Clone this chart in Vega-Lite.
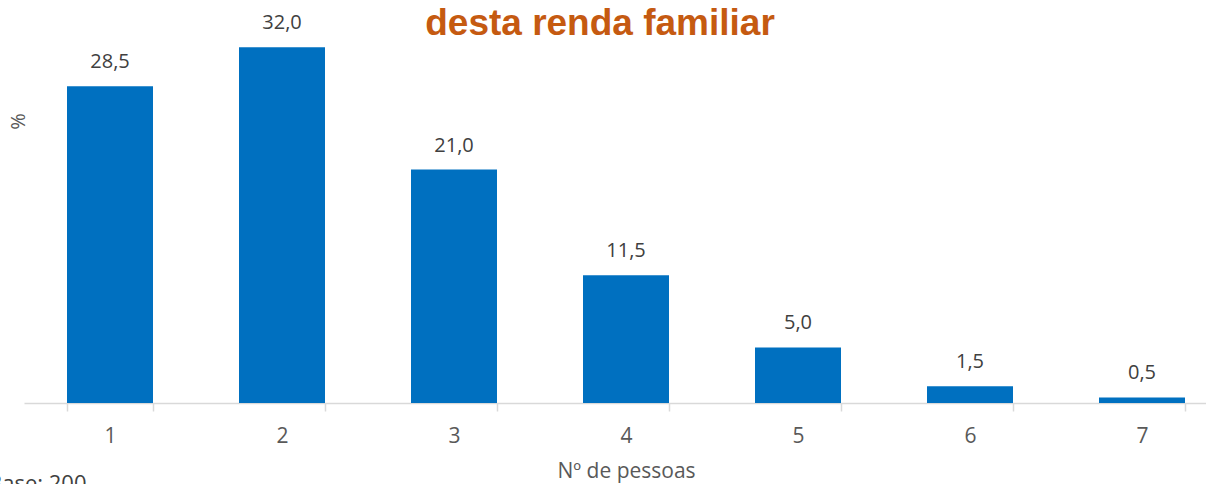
{
  "$schema": "https://vega.github.io/schema/vega-lite/v6.json",
  "width": 1204,
  "height": 389,
  "autosize": {"type": "none"},
  "padding": {"left": 24, "top": 14, "right": 0, "bottom": 81},
  "background": "white",
  "config": {
    "view": {"stroke": null},
    "locale": {"number": {"decimal": ",", "thousands": ".", "grouping": [3], "currency": ["", ""]}}
  },
  "title": {
    "text": "desta renda familiar",
    "font": "Liberation Sans",
    "fontSize": 37,
    "fontWeight": "bold",
    "color": "#C55A11",
    "anchor": "middle",
    "frame": "group",
    "dx": -26,
    "dy": 38,
    "baseline": "alphabetic",
    "offset": -21
  },
  "data": {
    "values": [
      {"pessoas": "1", "pct": 28.5},
      {"pessoas": "2", "pct": 32.0},
      {"pessoas": "3", "pct": 21.0},
      {"pessoas": "4", "pct": 11.5},
      {"pessoas": "5", "pct": 5.0},
      {"pessoas": "6", "pct": 1.5},
      {"pessoas": "7", "pct": 0.5}
    ]
  },
  "encoding": {
    "x": {
      "field": "pessoas",
      "type": "ordinal",
      "scale": {"paddingInner": 0.5, "paddingOuter": 0.25},
      "axis": {
        "title": "Nº de pessoas",
        "titleFont": "Open Sans",
        "titleFontSize": 21,
        "titleFontWeight": "normal",
        "titleColor": "#595959",
        "titlePadding": 14,
        "labelFont": "Open Sans",
        "labelFontSize": 21,
        "labelColor": "#595959",
        "labelAngle": 0,
        "labelPadding": 14,
        "tickBand": "extent",
        "tickSize": 8,
        "tickColor": "#D9D9D9",
        "domainColor": "#D9D9D9",
        "domainWidth": 1.5,
        "tickWidth": 1.5
      }
    },
    "y": {
      "field": "pct",
      "type": "quantitative",
      "scale": {"domain": [0, 35], "nice": false},
      "axis": {
        "title": "%",
        "titleFont": "Open Sans",
        "titleFontSize": 20,
        "titleFontWeight": "normal",
        "titleColor": "#595959",
        "titleX": -6,
        "titleY": 107,
        "titleAngle": -90,
        "titleAlign": "center",
        "titleBaseline": "middle",
        "labels": false,
        "ticks": false,
        "domain": false,
        "grid": false
      }
    }
  },
  "layer": [
    {"mark": {"type": "bar", "color": "#0070C0"}},
    {
      "mark": {"type": "text", "baseline": "alphabetic", "dy": -18, "font": "Open Sans", "fontSize": 20, "color": "#404040"},
      "encoding": {"text": {"field": "pct", "type": "quantitative", "format": ".1f"}}
    },
    {
      "data": {"values": [{"nota": "Base: 200", "px": "1", "py": -7.9}]},
      "mark": {"type": "text", "align": "left", "baseline": "alphabetic", "dx": -122, "font": "Open Sans", "fontSize": 22, "color": "#404040", "clip": false},
      "encoding": {
        "x": {"field": "px", "type": "ordinal"},
        "y": {"field": "py", "type": "quantitative"},
        "text": {"field": "nota", "type": "nominal"}
      }
    }
  ]
}
